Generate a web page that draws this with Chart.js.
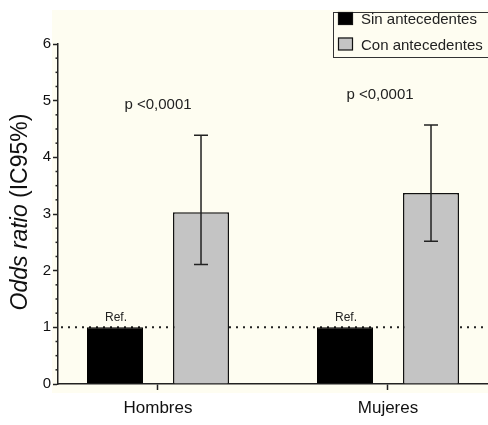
<!DOCTYPE html>
<html>
<head>
<meta charset="utf-8">
<script src="https://cdn.jsdelivr.net/npm/chart.js@4.4.0/dist/chart.umd.min.js"></script>
<style>
  html, body { margin: 0; padding: 0; background: #fff; }
  #wrap { width: 488px; height: 425px; }
</style>
</head>
<body>
<div id="wrap"><canvas id="chart"></canvas></div>
<script>
const categories = ["Hombres", "Mujeres"];
const seriesNames = ["Sin antecedentes", "Con antecedentes"];
const sinValues = [1, 1];
const conValues = [3.03, 3.37];
const conLow = [2.11, 2.52];
const conHigh = [4.39, 4.57];
const pLabels = ["p <0,0001", "p <0,0001"];
const refLabel = "Ref.";
const refLine = 1;
const yTicks = [0, 1, 2, 3, 4, 5, 6];

const FONT = "'Liberation Sans', Arial, sans-serif";
const INK = "#222";
const CREAM = "#fefdf1";

// background + reference dotted line
const backdrop = {
  id: "backdrop",
  beforeDraw(chart) {
    const { ctx, width, height } = chart;
    ctx.save();
    ctx.fillStyle = "#fff";
    ctx.fillRect(0, 0, width, height);
    ctx.fillStyle = CREAM;
    ctx.fillRect(chart.chartArea.left - 6, 10, width, 383);
    ctx.restore();
  },
  beforeDatasetsDraw(chart) {
    const { ctx, chartArea } = chart;
    const y = chart.scales.y.getPixelForValue(refLine);
    ctx.save();
    ctx.strokeStyle = INK;
    ctx.lineWidth = 2;
    ctx.setLineDash([2, 5]);
    ctx.beginPath();
    ctx.moveTo(chartArea.left + 3, y);
    ctx.lineTo(chartArea.right, y);
    ctx.stroke();
    ctx.restore();
  }
};

// error bars, annotations, minor ticks, legend, axis title
const extras = {
  id: "extras",
  afterDatasetsDraw(chart) {
    const { ctx } = chart;
    const y = chart.scales.y;
    const sinMeta = chart.getDatasetMeta(0);
    const conMeta = chart.getDatasetMeta(1);
    ctx.save();
    ctx.strokeStyle = INK;
    ctx.lineWidth = 1.5;
    conMeta.data.forEach((bar, i) => {
      const top = y.getPixelForValue(conHigh[i]);
      const bot = y.getPixelForValue(conLow[i]);
      ctx.beginPath();
      ctx.moveTo(bar.x, top); ctx.lineTo(bar.x, bot);
      ctx.moveTo(bar.x - 7, top); ctx.lineTo(bar.x + 7, top);
      ctx.moveTo(bar.x - 7, bot); ctx.lineTo(bar.x + 7, bot);
      ctx.stroke();
    });

    ctx.fillStyle = INK;
    ctx.textAlign = "center";
    ctx.textBaseline = "bottom";
    ctx.font = "12px " + FONT;
    sinMeta.data.forEach(bar => ctx.fillText(refLabel, bar.x + 1, bar.y - 4));

    ctx.font = "15px " + FONT;
    ctx.textBaseline = "middle";
    categories.forEach((c, i) => {
      const cx = chart.scales.x.getPixelForValue(i + 1);
      ctx.fillText(pLabels[i], cx - (i ? 8 : 0), y.getPixelForValue(conHigh[i]) - 30);
    });

    // minor ticks
    ctx.lineWidth = 1.5;
    const left = chart.chartArea.left;
    for (let k = 0; k < yTicks.length - 1; k++) {
      for (let m = 1; m < 4; m++) {
        const py = y.getPixelForValue(yTicks[k] + m / 4);
        ctx.beginPath();
        ctx.moveTo(left - 2.5, py); ctx.lineTo(left, py);
        ctx.stroke();
      }
    }
    ctx.restore();
  },
  afterDraw(chart) {
    const { ctx } = chart;
    ctx.save();
    // legend
    ctx.fillStyle = CREAM;
    ctx.fillRect(333, 12, 160, 45);
    ctx.strokeStyle = "#333";
    ctx.lineWidth = 1;
    ctx.strokeRect(333.5, 12.5, 160, 45);
    const ds = chart.data.datasets;
    ctx.font = "15px " + FONT;
    ctx.textAlign = "left";
    ctx.textBaseline = "middle";
    ds.forEach((d, i) => {
      const top = 12 + i * 25.5;
      ctx.fillStyle = d.backgroundColor;
      ctx.fillRect(338, top, 15, 12.5);
      ctx.strokeStyle = "#111";
      ctx.lineWidth = 1.2;
      ctx.strokeRect(338.5, top + 0.5, 14, 12);
      ctx.fillStyle = INK;
      ctx.fillText(d.label, 361, top + 8);
    });

    // y axis title: italic + normal
    ctx.translate(21, 212);
    ctx.rotate(-Math.PI / 2);
    const a = "Odds ratio", b = " (IC95%)";
    ctx.font = "italic 23px " + FONT;
    const wa = ctx.measureText(a).width;
    ctx.font = "23px " + FONT;
    const wb = ctx.measureText(b).width;
    const x0 = -(wa + wb) / 2;
    ctx.fillStyle = "#111";
    ctx.textBaseline = "middle";
    ctx.textAlign = "left";
    ctx.font = "italic 23px " + FONT;
    ctx.fillText(a, x0, 0);
    ctx.font = "23px " + FONT;
    ctx.fillText(b, x0 + wa, 0);
    ctx.restore();
  }
};

const toPoints = vals => vals.map((v, i) => ({ x: i + 1, y: v }));

new Chart(document.getElementById("chart"), {
  type: "bar",
  data: {
    datasets: [
      {
        label: seriesNames[0],
        data: toPoints(sinValues),
        backgroundColor: "#000",
        borderColor: "#000",
        borderWidth: 1,
        categoryPercentage: 0.748,
        barPercentage: 0.651
      },
      {
        label: seriesNames[1],
        data: toPoints(conValues),
        backgroundColor: "#c4c4c4",
        borderColor: "#111",
        borderWidth: 1.5,
        categoryPercentage: 0.748,
        barPercentage: 0.651
      }
    ]
  },
  options: {
    responsive: true,
    maintainAspectRatio: false,
    animation: false,
    layout: { padding: { top: 44, left: 0, right: 0, bottom: 0 } },
    plugins: {
      legend: { display: false },
      tooltip: { enabled: false }
    },
    scales: {
      x: {
        type: "linear",
        offset: false,
        min: 1 - 100 / 230,
        max: 2 + 100 / 230,
        afterBuildTicks: s => { s.ticks = categories.map((c, i) => ({ value: i + 1 })); },
        afterFit: s => { s.height = 41; },
        grid: { display: true, drawOnChartArea: false, offset: false, tickLength: 6, tickColor: INK, tickWidth: 1.5 },
        border: { display: true, color: INK, width: 1.5 },
        ticks: {
          color: "#111",
          padding: 8,
          font: { family: FONT, size: 17 },
          callback: v => categories[v - 1] || ""
        }
      },
      y: {
        min: 0,
        max: 6,
        afterBuildTicks: s => { s.ticks = yTicks.map(v => ({ value: v })); },
        afterFit: s => { s.width = 58; },
        grid: { display: true, drawOnChartArea: false, tickLength: 5, tickColor: INK, tickWidth: 1.5 },
        border: { display: true, color: INK, width: 1.5 },
        ticks: {
          color: "#111",
          padding: 2,
          font: { family: FONT, size: 15 }
        }
      }
    }
  },
  plugins: [backdrop, extras]
});
</script>
</body>
</html>
